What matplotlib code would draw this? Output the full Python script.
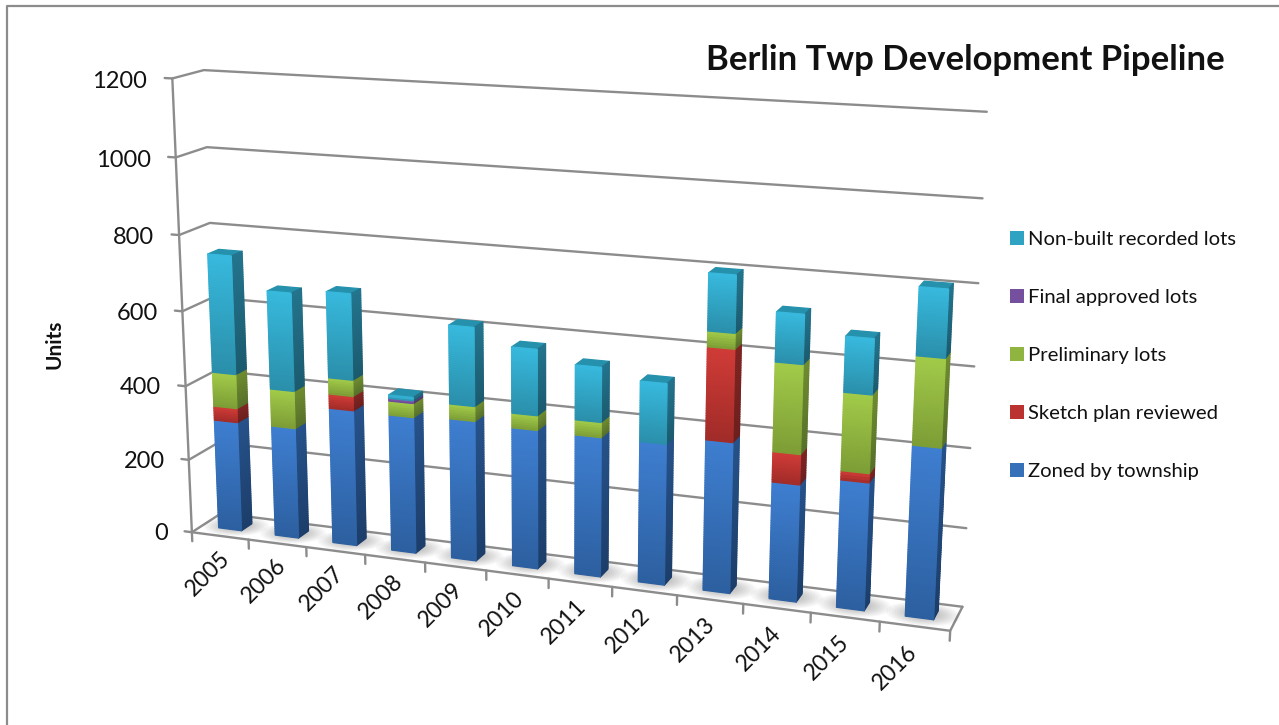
import numpy as np
import matplotlib
matplotlib.use("Agg")
import matplotlib.pyplot as plt
from matplotlib.colors import to_rgb
from matplotlib.lines import Line2D
from matplotlib.patches import Patch
from mpl_toolkits.mplot3d import proj3d
from mpl_toolkits.mplot3d.art3d import Poly3DCollection

plt.rcParams['font.family'] = ['Lato', 'DejaVu Sans']

years = ['2005', '2006', '2007', '2008', '2009', '2010', '2011', '2012', '2013', '2014', '2015', '2016']
zoned = [298, 299, 364, 363, 370, 364, 363, 364, 386, 298, 322, 426]
sketch = [38, 0, 38, 0, 0, 0, 0, 0, 232, 76, 23, 0]
preliminary = [92, 100, 43, 37, 39, 38, 39, 0, 39, 222, 193, 216]
final = [0, 0, 0, 7, 0, 0, 0, 0, 0, 0, 0, 0]
nonbuilt = [315, 260, 226, 9, 204, 170, 140, 153, 142, 122, 136, 164]
yticks = [0, 200, 400, 600, 800, 1000, 1200]

series = [zoned, sketch, preliminary, final, nonbuilt]
names = ['Zoned by township', 'Sketch plan reviewed', 'Preliminary lots', 'Final approved lots', 'Non-built recorded lots']
# front face top, front face bottom, side top, side bottom
shades = [('#3e7ed0', '#2c5f9f', '#26528a', '#1c3d69'),
          ('#d03b37', '#a02b28', '#7f2523', '#6c1f1d'),
          ('#a2cb49', '#7c9c35', '#6f8c30', '#56702a'),
          ('#8058ab', '#6a4690', '#5a3d7a', '#4c3368'),
          ('#37b9dd', '#2a8eaa', '#23748d', '#1b5a6e')]
top_colors = ['#2f6cb5', '#b5322f', '#8cb03e', '#6f4c96', '#2591ad']
legend_colors = ['#3570b8', '#bb3330', '#8fb43f', '#75509e', '#30a3c3']

W, H = 1279, 725
GRID = '#8c8c8c'
BAR_W, Y0, Y1 = 0.405, 0.3405, 0.7031

fig = plt.figure(figsize=(W / 100, H / 100), dpi=100)

# chart frame, cut by the right and bottom of the picture
fig.add_artist(Line2D([7 / W, 7 / W, 1], [0, 1 - 6 / H, 1 - 6 / H], color=GRID, lw=1.6))

side = 926.1
ax = fig.add_axes([84.31 / W, (H - 813.15) / H, side / W, side / H], projection='3d')
ax.set_xlim(0, 12)
ax.set_ylim(0, 1)
ax.set_zlim(0, 1200)
ax.view_init(14.6176, -70.1025, -0.0411)
ax.set_proj_type('persp', focal_length=0.4477)
ax.set_box_aspect((1, 0.081, 0.5989))
ax.set_axis_off()
ax.computed_zorder = False
M = ax.get_proj()


def wall_line(x, y, z, lw=1.7):
    ax.plot(x, y, z, color=GRID, lw=lw, zorder=1, solid_capstyle='round')


def label(x, y, z, s, **kw):
    # plain 2d text at the projected spot of a 3d point
    px, py, _ = proj3d.proj_transform(x, y, z, M)
    ax.text2D(px, py, s, transform=ax.transData, color='#111111', zorder=10, **kw)


# walls and floor
for v in yticks:
    wall_line([0, 0, 12], [0, 1, 1], [v, v, v])
    wall_line([-0.13, 0], [0, 0], [v, v])
    label(-0.43, 0, v - 11, str(v), ha='right', va='center', fontsize=17)
wall_line([0, 0], [0, 0], [0, 1200])
wall_line([0, 12, 12], [0, 0, 1], [0, 0, 0])
for i in range(13):
    wall_line([i, i], [0, 0], [0, -25])
for i, year in enumerate(years):
    label(i + 0.25, 0, -110, year, rotation=45, rotation_mode='anchor', ha='center', va='center', fontsize=16.5)

# soft shadows on the floor
t = np.linspace(0, 2 * np.pi, 30)
shadow = []
for i in range(len(years)):
    for grow in np.linspace(0.05, 0.33, 8):
        shadow.append(list(zip(i + 0.52 + (BAR_W / 2 + grow) * np.cos(t),
                               (Y0 + Y1) / 2 + ((Y1 - Y0) / 2 + grow * 0.9) * np.sin(t),
                               np.zeros_like(t))))
ax.add_collection3d(Poly3DCollection(shadow, facecolors=(0, 0, 0, 0.028), edgecolors='none', zorder=2))

# stacked columns, each segment cut in slices for the top-to-bottom gradient
polys, colors = [], []
for i in range(len(years)):
    x0 = i + 0.5 - BAR_W / 2
    x1 = x0 + BAR_W
    base = 0
    top_color = None
    for values, shade, top_c in zip(series, shades, top_colors):
        v = values[i]
        if v == 0:
            continue
        n = max(2, int(v / 6))
        edges = np.linspace(base, base + v, n + 1)
        for k in range(n):
            f = (k + 0.5) / n
            z0, z1 = edges[k], edges[k + 1]
            front = (1 - f) * np.array(to_rgb(shade[1])) + f * np.array(to_rgb(shade[0]))
            right = (1 - f) * np.array(to_rgb(shade[3])) + f * np.array(to_rgb(shade[2]))
            polys.append([(x0, Y0, z0), (x1, Y0, z0), (x1, Y0, z1), (x0, Y0, z1)])
            colors.append(front)
            polys.append([(x1, Y0, z0), (x1, Y1, z0), (x1, Y1, z1), (x1, Y0, z1)])
            colors.append(right)
        base += v
        top_color = top_c
    polys.append([(x0, Y0, base), (x1, Y0, base), (x1, Y1, base), (x0, Y1, base)])
    colors.append(to_rgb(top_color))
ax.add_collection3d(Poly3DCollection(polys, facecolors=colors, edgecolors=colors, linewidths=0.9, zorder=3))

fig.text(965 / W, 1 - 60 / H, 'Berlin Twp Development Pipeline', ha='center', va='center',
         fontsize=24.9, fontweight='bold', color='#111111')
fig.text(54 / W, 1 - 344 / H, 'Units', rotation=90, ha='center', va='center',
         fontsize=15, fontweight='bold', color='#111111')

handles = [Patch(facecolor=c, edgecolor='none') for c in legend_colors[::-1]]
fig.legend(handles, names[::-1], loc='upper left', bbox_to_anchor=(1010 / W, 1 - 231 / H), frameon=False,
           borderpad=0, borderaxespad=0, handlelength=0.68, handleheight=0.68, handletextpad=0.2,
           labelspacing=2.02, fontsize=14.6, labelcolor='#111111')

fig.savefig('out.png', dpi=100)
